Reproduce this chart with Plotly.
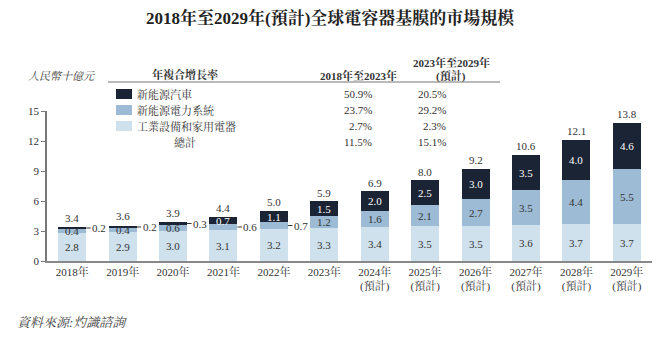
import plotly.graph_objects as go

years = ["2018年", "2019年", "2020年", "2021年", "2022年", "2023年",
         "2024年<br>(預計)", "2025年<br>(預計)", "2026年<br>(預計)",
         "2027年<br>(預計)", "2028年<br>(預計)", "2029年<br>(預計)"]
industrial = [2.8, 2.9, 3.0, 3.1, 3.2, 3.3, 3.4, 3.5, 3.5, 3.6, 3.7, 3.7]
power = [0.4, 0.4, 0.6, 0.6, 0.7, 1.2, 1.6, 2.1, 2.7, 3.5, 4.4, 5.5]
nev = [0.2, 0.2, 0.3, 0.7, 1.1, 1.5, 2.0, 2.5, 3.0, 3.5, 4.0, 4.6]
totals = [3.4, 3.6, 3.9, 4.4, 5.0, 5.9, 6.9, 8.0, 9.2, 10.6, 12.1, 13.8]

series_names = ["新能源汽車", "新能源電力系統", "工業設備和家用電器"]
cagr_1823 = ["50.9%", "23.7%", "2.7%", "11.5%"]
cagr_2329 = ["20.5%", "29.2%", "2.3%", "15.1%"]

C_DARK = "#1b2434"
C_MID = "#9dbbd4"
C_LIGHT = "#cfe1ed"
TXT = "#333333"
FONT = "Liberation Serif, Noto Serif CJK TC, Noto Sans CJK TC, serif"

W, H = 660, 338
L, R, T, B = 47, 8, 111, 77
BARW = 0.555

fig = go.Figure()
for vals, col, nm in [(industrial, C_LIGHT, series_names[2]),
                      (power, C_MID, series_names[1]),
                      (nev, C_DARK, series_names[0])]:
    fig.add_trace(go.Bar(x=list(range(len(years))), y=vals, marker_color=col,
                         marker_line_width=0, width=BARW, name=nm,
                         showlegend=False, hoverinfo="skip"))

ann = []
def px2paper(px, py):
    return (px - L) / (W - L - R), (H - B - py) / (H - T - B)

# segment labels
for i in range(len(years)):
    segs = [(industrial[i], 0, TXT), (power[i], industrial[i], TXT),
            (nev[i], industrial[i] + power[i], "white")]
    for k, (v, base, col) in enumerate(segs):
        mid = base + v / 2
        outside = (k == 2 and i <= 2) or (k == 1 and i in (3, 4))
        if outside:
            ann.append(dict(x=i + BARW / 2, y=mid, xref="x", yref="y",
                            text=f"{v:.1f}", showarrow=True, arrowhead=0,
                            arrowwidth=1.2, arrowcolor=TXT, ax=13, ay=0,
                            font=dict(size=11, color=TXT, family=FONT)))
        else:
            ann.append(dict(x=i, y=mid, xref="x", yref="y", text=f"{v:.1f}",
                            showarrow=False,
                            font=dict(size=11, color=col, family=FONT)))
    ann.append(dict(x=i, y=totals[i], xref="x", yref="y", text=f"{totals[i]:.1f}",
                    showarrow=False, yanchor="bottom", yshift=1,
                    font=dict(size=11, color=TXT, family=FONT)))

def pann(px, py, text, size=11, xanchor="center", bold=False, italic=False, color=TXT):
    x, y = px2paper(px, py)
    t = f"<b>{text}</b>" if bold else text
    if italic:
        t = f"<i>{t}</i>"
    ann.append(dict(x=x, y=y, xref="paper", yref="paper", text=t, showarrow=False,
                    xanchor=xanchor, yanchor="middle",
                    font=dict(size=size, color=color, family=FONT)))

pann(330, 18, "2018年至2029年(預計)全球電容器基膜的市場規模", size=17, bold=True, color="#222222")
pann(26, 76, "人民幣十億元", size=11, xanchor="left", italic=True, color="#444444")
pann(185, 74, "年複合增長率", size=11, bold=True)
pann(358, 75, "2018年至2023年", size=11, bold=True)
pann(451, 62, "2023年至2029年", size=11, bold=True)
pann(451, 76, "(預計)", size=11, bold=True)
pann(15, 322, "資料來源:灼識諮詢", size=13, xanchor="left", italic=True, color="#444444")

rows_y = [94, 110, 126, 142]
labels = series_names + ["總計"]
for j, lab in enumerate(labels):
    if j < 3:
        pann(135, rows_y[j], lab, size=11, xanchor="left")
    else:
        pann(185, rows_y[j], lab, size=11)
    pann(374, rows_y[j], cagr_1823[j], size=11, xanchor="right")
    pann(448, rows_y[j], cagr_2329[j], size=11, xanchor="right")

shapes = []
for j, col in enumerate([C_DARK, C_MID, C_LIGHT]):
    x0, y0 = px2paper(116, rows_y[j] - 5)
    x1, y1 = px2paper(132, rows_y[j] + 5)
    shapes.append(dict(type="rect", xref="paper", yref="paper", x0=x0, x1=x1,
                       y0=y0, y1=y1, fillcolor=col, line_width=0))
x0, y0 = px2paper(108, 82)
x1, _ = px2paper(500, 82)
shapes.append(dict(type="line", xref="paper", yref="paper", x0=x0, x1=x1, y0=y0, y1=y0,
                   line=dict(color="#777777", width=1.2)))

fig.update_layout(
    width=W, height=H, margin=dict(l=L, r=R, t=T, b=B),
    barmode="stack", bargap=0.45,
    plot_bgcolor="white", paper_bgcolor="white",
    font=dict(family=FONT, color=TXT, size=11),
    annotations=ann, shapes=shapes,
    xaxis=dict(range=[-0.5, len(years) - 0.5], tickvals=list(range(len(years))),
               ticktext=years, showline=True, linecolor="#888888", linewidth=1.5,
               ticks="", showgrid=False, zeroline=False,
               tickfont=dict(size=11, color=TXT, family=FONT)),
    yaxis=dict(range=[0, 15], tickvals=[0, 3, 6, 9, 12, 15], showline=True,
               linecolor="#777777", linewidth=1.5, ticks="outside", ticklen=4,
               tickcolor="#777777", showgrid=False, zeroline=False,
               tickfont=dict(size=11, color=TXT, family=FONT)),
)

fig.write_html("out.html")
